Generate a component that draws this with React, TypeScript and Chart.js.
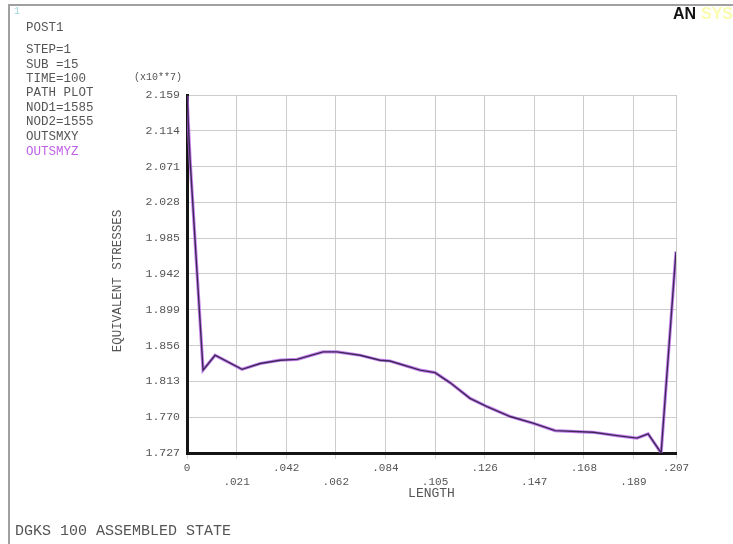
import React, { useEffect, useRef } from "react";
import { Chart, registerables } from "chart.js";

Chart.register(...registerables);

// LENGTH along path
const lengthValues = [
  0, 0.0013, 0.0068, 0.0119, 0.0233, 0.031, 0.0394, 0.0466, 0.0576, 0.0635,
  0.0733, 0.0817, 0.0859, 0.0987, 0.105, 0.1113, 0.1198, 0.127, 0.1368, 0.1465,
  0.1558, 0.1719, 0.182, 0.1905, 0.1952, 0.2007, 0.207,
];
// stresses (x10**7)
const outsmxyValues = [
  2.158, 2.081, 1.827, 1.845, 1.828, 1.835, 1.839, 1.84, 1.849, 1.849,
  1.845, 1.839, 1.838, 1.827, 1.824, 1.812, 1.793, 1.783, 1.771, 1.763,
  1.754, 1.752, 1.748, 1.745, 1.75, 1.727, 1.97,
];
const outsmyzValues = [
  2.158, 2.081, 1.827, 1.845, 1.828, 1.835, 1.839, 1.84, 1.849, 1.849,
  1.845, 1.839, 1.838, 1.827, 1.824, 1.812, 1.793, 1.783, 1.771, 1.763,
  1.754, 1.752, 1.748, 1.745, 1.75, 1.727, 1.97,
];

const xTickValues = [0, 0.021, 0.042, 0.063, 0.084, 0.105, 0.126, 0.147, 0.168, 0.189, 0.207];
const xTickLabels = ["0", ".021", ".042", ".062", ".084", ".105", ".126", ".147", ".168", ".189", ".207"];
const yTickValues = [1.727, 1.7702, 1.8134, 1.8566, 1.8998, 1.943, 1.9862, 2.0294, 2.0726, 2.1158, 2.159];
const yTickLabels = ["1.727", "1.770", "1.813", "1.856", "1.899", "1.942", "1.985", "2.028", "2.071", "2.114", "2.159"];

const infoLines = ["STEP=1", "SUB =15", "TIME=100", "PATH PLOT", "NOD1=1585", "NOD2=1555"];
const seriesNames = ["OUTSMXY", "OUTSMYZ"];
const seriesColors = ["#3c2758", "rgba(185,100,235,0.8)"];
const legendColors = ["#555555", "#c060e8"];

const MONO = "'Liberation Mono', 'DejaVu Sans Mono', monospace";
const TEXT = "#555555";

const textPlugin = {
  id: "ansysText",
  beforeDraw(chart: any) {
    const ctx = chart.ctx;
    ctx.save();
    ctx.fillStyle = "#ffffff";
    ctx.fillRect(0, 0, chart.width, chart.height);
    ctx.restore();
  },
  afterDraw(chart: any) {
    const ctx = chart.ctx;
    const area = chart.chartArea;
    ctx.save();
    // window frame
    ctx.strokeStyle = "#a0a0a0";
    ctx.lineWidth = 2;
    ctx.beginPath();
    ctx.moveTo(9, chart.height);
    ctx.lineTo(9, 5);
    ctx.lineTo(chart.width, 5);
    ctx.stroke();

    // window number
    ctx.fillStyle = "#9fd6e0";
    ctx.font = `10px ${MONO}`;
    ctx.textBaseline = "middle";
    ctx.textAlign = "left";
    ctx.fillText("1", 14, 11);

    // logo
    ctx.font = "bold 16px 'Liberation Sans', Arial, sans-serif";
    ctx.fillStyle = "#111111";
    ctx.fillText("AN", 673, 15);
    ctx.fillStyle = "#fbfbb0";
    ctx.fillText("SYS", 701, 15);

    // info block
    ctx.fillStyle = TEXT;
    ctx.font = `12.5px ${MONO}`;
    ctx.fillText("POST1", 26, 28);
    infoLines.forEach((t, i) => ctx.fillText(t, 26, 50 + i * 14.3));
    seriesNames.forEach((t, i) => {
      ctx.fillStyle = legendColors[i];
      ctx.fillText(t, 26, 137 + i * 14.3);
    });

    // multiplier
    ctx.fillStyle = TEXT;
    ctx.font = `10px ${MONO}`;
    ctx.textAlign = "center";
    ctx.fillText("(x10**7)", 158, 77);

    // axis titles
    ctx.font = `13px ${MONO}`;
    ctx.fillText("LENGTH", (area.left + area.right) / 2, 494);
    ctx.save();
    ctx.translate(118, 281);
    ctx.rotate(-Math.PI / 2);
    ctx.font = `12.5px ${MONO}`;
    ctx.fillText("EQUIVALENT STRESSES", 0, 0);
    ctx.restore();

    // bottom caption
    ctx.textAlign = "left";
    ctx.font = `15px ${MONO}`;
    ctx.fillText("DGKS 100 ASSEMBLED STATE", 15, 531);
    ctx.restore();
  },
};

export default function App() {
  const ref = useRef<HTMLCanvasElement | null>(null);

  useEffect(() => {
    if (!ref.current) return;
    const chart = new Chart(ref.current, {
      type: "scatter",
      data: {
        datasets: [
          {
            label: seriesNames[0],
            data: lengthValues.map((x, i) => ({ x, y: outsmxyValues[i] })),
            showLine: true,
            borderColor: seriesColors[0],
            borderWidth: 1.4,
            pointRadius: 0,
            tension: 0,
          },
          {
            label: seriesNames[1],
            data: lengthValues.map((x, i) => ({ x, y: outsmyzValues[i] })),
            showLine: true,
            borderColor: seriesColors[1],
            borderWidth: 3.2,
            pointRadius: 0,
            tension: 0,
          },
        ],
      },
      options: {
        animation: false,
        responsive: false,
        maintainAspectRatio: false,
        layout: { autoPadding: false, padding: { left: 0, right: 57, top: 95, bottom: 0 } },
        plugins: { legend: { display: false }, tooltip: { enabled: false }, title: { display: false } },
        scales: {
          x: {
            type: "linear",
            min: 0,
            max: 0.207,
            afterBuildTicks: (s: any) => {
              s.ticks = xTickValues.map((v) => ({ value: v }));
            },
            afterFit: (s: any) => {
              s.height = 91;
            },
            grid: { color: "#cccccc", lineWidth: 1, drawTicks: true, tickLength: 6, tickColor: "#d4d4d4" },
            border: { display: true, color: "#151515", width: 3 },
            ticks: {
              padding: 2,
              color: TEXT,
              maxRotation: 0,
              autoSkip: false,
              font: { family: MONO, size: 11, lineHeight: "14px" as any },
              callback: (_v: any, i: number) => (i % 2 === 1 ? ["", xTickLabels[i]] : xTickLabels[i]),
            },
          },
          y: {
            type: "linear",
            min: 1.727,
            max: 2.159,
            afterBuildTicks: (s: any) => {
              s.ticks = yTickValues.map((v) => ({ value: v }));
            },
            afterFit: (s: any) => {
              s.width = 187;
            },
            grid: { color: "#cccccc", lineWidth: 1, drawTicks: false },
            border: { display: true, color: "#151515", width: 3 },
            ticks: {
              padding: 7,
              color: TEXT,
              autoSkip: false,
              font: { family: MONO, size: 11.5 },
              callback: (_v: any, i: number) => yTickLabels[i],
            },
          },
        },
      },
      plugins: [textPlugin],
    } as any);
    return () => chart.destroy();
  }, []);

  return (
    <div style={{ position: "fixed", left: 0, top: 0, width: 733, height: 544, background: "#fff" }}>
      <canvas ref={ref} width={733} height={544} style={{ display: "block", width: 733, height: 544 }} />
    </div>
  );
}
